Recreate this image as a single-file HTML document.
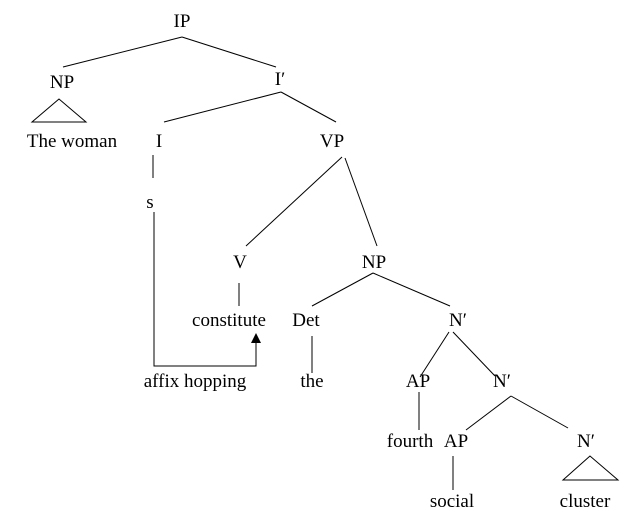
<!DOCTYPE html>
<html><head><style>body{margin:0;background:#fff}svg{display:block}text{font-family:"Liberation Serif",serif;font-size:19px;fill:#000;text-anchor:middle}</style></head>
<body>
<svg width="644" height="532" viewBox="0 0 644 532" stroke="#000" stroke-width="1" fill="none">
<g stroke="#000">
<line x1="182" y1="37" x2="63" y2="67"/><line x1="182" y1="37" x2="276" y2="67"/>
<polygon points="59,99 32,122 86,122"/>
<line x1="281" y1="92" x2="164" y2="122"/><line x1="281" y1="92" x2="336" y2="122"/>
<line x1="153" y1="155" x2="153" y2="178"/>
<polyline points="154,212 154,366 256,366 256,340"/>
<line x1="342" y1="157" x2="246" y2="246"/><line x1="345" y1="158" x2="377" y2="246"/>
<line x1="239" y1="283" x2="239" y2="306"/>
<line x1="312" y1="336" x2="312" y2="373"/>
<line x1="373" y1="273" x2="312" y2="306"/><line x1="373" y1="273" x2="450" y2="306"/>
<line x1="449" y1="332" x2="420" y2="377"/><line x1="453" y1="332" x2="495" y2="376"/>
<line x1="419" y1="392" x2="419" y2="430"/>
<line x1="511" y1="396" x2="466" y2="430"/><line x1="511" y1="396" x2="568" y2="428"/>
<line x1="453" y1="456" x2="453" y2="490"/>
<polygon points="590,456 563,480 618,480"/>
</g>
<polygon points="256,333 251,343 261,343" fill="#000" stroke="none"/>
<g stroke="none">
<text x="182" y="27">IP</text>
<text x="62" y="88">NP</text>
<text x="280" y="85">I′</text>
<text x="72" y="147">The woman</text>
<text x="159" y="147">I</text>
<text x="332" y="147">VP</text>
<text x="150" y="208">s</text>
<text x="240" y="268">V</text>
<text x="374" y="268">NP</text>
<text x="229" y="326">constitute</text>
<text x="306" y="326">Det</text>
<text x="458" y="326">N′</text>
<text x="195" y="387">affix hopping</text>
<text x="312" y="387">the</text>
<text x="418" y="387">AP</text>
<text x="502" y="387">N′</text>
<text x="410" y="447">fourth</text>
<text x="456" y="447">AP</text>
<text x="586" y="447">N′</text>
<text x="452" y="507">social</text>
<text x="585" y="507">cluster</text>
</g>
</svg>
</body></html>
